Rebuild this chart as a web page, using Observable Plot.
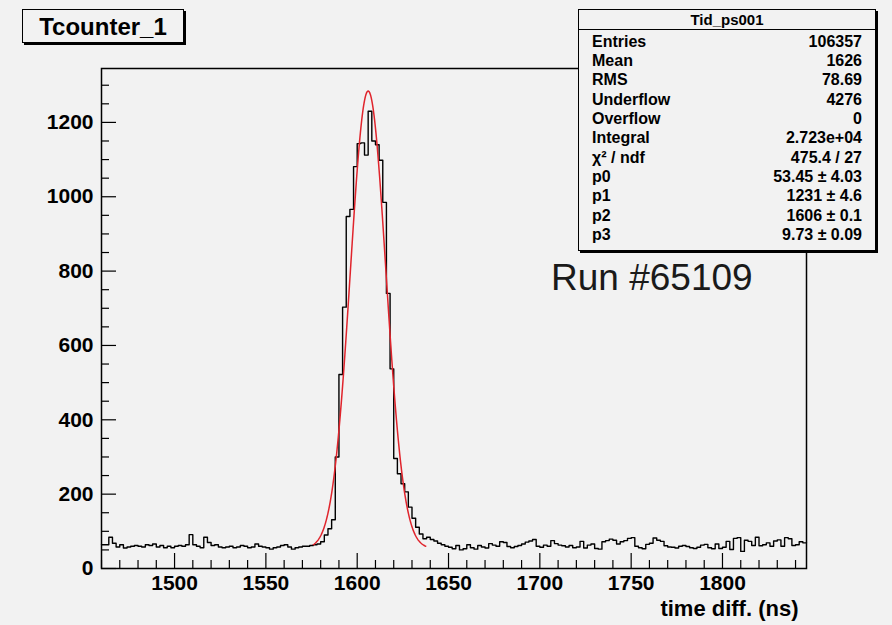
<!DOCTYPE html>
<html><head><meta charset="utf-8">
<script src="https://cdn.jsdelivr.net/npm/d3@7"></script>
<script src="https://cdn.jsdelivr.net/npm/@observablehq/plot@0.6"></script>
<style>
html,body{margin:0;padding:0;background:#f2f2f2;}
#wrap{position:relative;width:892px;height:625px;overflow:hidden;font-family:"Liberation Sans",Arial,Helvetica,sans-serif;color:#000;}
#wrap svg{position:absolute;left:0;top:0;}
.title{position:absolute;left:22px;top:9px;width:160px;height:32px;border:1px solid #000;box-shadow:2px 2px 0 #000;background:#f2f2f2;font-weight:bold;font-size:24px;line-height:34px;text-align:center;}
.stats{position:absolute;left:578px;top:9px;width:296px;height:240px;border:1px solid #000;box-shadow:2px 2px 0 #000;background:#f2f2f2;}
.stats .head{position:absolute;left:0;top:0;width:296px;height:19px;border-bottom:1px solid #000;font-weight:bold;font-size:15px;line-height:19px;text-align:center;}
.stats .row{position:absolute;left:13px;width:270px;height:20px;line-height:20px;font-size:16px;font-weight:bold;}
.stats .row .l{position:absolute;left:0;}
.stats .row .v{position:absolute;right:0;}
.run{position:absolute;left:551px;top:259px;font-size:37px;line-height:37px;color:#1a1a1a;white-space:nowrap;}
</style>
</head><body>
<div id="wrap"></div>
<script>
// ---- data ----
const histTitle = "Tcounter_1";
const statsTitle = "Tid_ps001";
const statsLabels = ["Entries","Mean","RMS","Underflow","Overflow","Integral","χ² / ndf","p0","p1","p2","p3"];
const statsValues = ["106357","1626","78.69","4276","0","2.723e+04","475.4 / 27","53.45 ± 4.03","1231 ± 4.6","1606 ± 0.1","9.73 ± 0.09"];
const runLabel = "Run #65109";
const xLabel = "time diff. (ns)";

const binLow = 1460;
const binWidth = 2;
const counts = [
  64,64,84,68,58,64,55,58,60,62, 60,58,64,62,66,58,62,56,60,56,
  60,62,60,64,91,64,60,56,84,70, 62,64,58,56,58,60,56,58,62,60,
  56,58,66,60,58,56,52,56,58,62, 64,58,52,56,58,60,60,62,
  64,66,72,90,107,131,300,522,703,947, 966,1081,1143,1145,1112,1230,1150,1140,1098,985,
  740,537,296,255,228,206,165,135,111,93, 80,
  84,78,74,68,64,60,57,53,62,50, 53,64,56,52,62,58,55,67,63,60,
  72,70,59,56,59,62,66,71,74,78, 60,57,63,60,75,67,63,61,58,62,
  56,58,73,55,63,66,54,52,72,75, 79,76,66,72,75,81,83,60,56,53,
  65,68,82,76,73,61,58,57,55,60, 62,59,56,54,57,63,65,56,53,66,
  54,57,73,51,81,83,46,76,73,62, 84,61,64,69,60,74,77,60,83,80,
  62,64,72,69
];
const fitParams = {p0: 53.45, p1: 1231, p2: 1606, p3: 9.73};
const fitRange = [1576, 1637.5];

const xDomain = [1460, 1846];
const yDomain = [0, 1345];
const xMajor = [1500, 1550, 1600, 1650, 1700, 1750, 1800];
const xMinor = [1460,1470,1480,1490,1510,1520,1530,1540,1560,1570,1580,1590,1610,1620,1630,1640,1660,1670,1680,1690,1710,1720,1730,1740,1760,1770,1780,1790,1810,1820,1830,1840];
const yMajor = [0, 200, 400, 600, 800, 1000, 1200];
const yMinor = [50,100,150,250,300,350,450,500,550,650,700,750,850,900,950,1050,1100,1150,1250,1300];

// ---- build ----
const histPts = counts.map((c, i) => ({x: binLow + i * binWidth, y: c}));
histPts.push({x: binLow + counts.length * binWidth, y: counts[counts.length - 1]});

const fitPts = [];
for (let t = fitRange[0]; t <= fitRange[1] + 1e-9; t += 0.25) {
  const z = (t - fitParams.p2) / fitParams.p3;
  fitPts.push({x: t, y: fitParams.p0 + fitParams.p1 * Math.exp(-0.5 * z * z)});
}

const W = 892, H = 625, mL = 101, mR = 86, mT = 68, mB = 57;
const innerW = W - mL - mR, innerH = H - mT - mB;
const majLen = 15, minLen = 8;

const chart = Plot.plot({
  width: W, height: H,
  marginLeft: mL, marginRight: mR, marginTop: mT, marginBottom: mB,
  x: {domain: xDomain},
  y: {domain: yDomain},
  style: {background: "transparent", fontFamily: "'Liberation Sans', Arial, sans-serif", color: "#000"},
  marks: [
    Plot.tickX(xMinor, {x: d => d, insetTop: innerH - minLen, stroke: "#000", strokeWidth: 1.2}),
    Plot.tickX(xMajor, {x: d => d, insetTop: innerH - majLen, stroke: "#000", strokeWidth: 1.2}),
    Plot.tickY(yMinor, {y: d => d, insetRight: innerW - minLen, stroke: "#000", strokeWidth: 1.2}),
    Plot.tickY(yMajor, {y: d => d, insetRight: innerW - majLen, stroke: "#000", strokeWidth: 1.2}),
    Plot.axisX({ticks: xMajor, tickSize: 0, tickPadding: 7, fontSize: 21, fontWeight: "bold", label: null, tickFormat: d => String(d)}),
    Plot.axisY({ticks: yMajor, tickSize: 0, tickPadding: 8, fontSize: 21, fontWeight: "bold", label: null, tickFormat: d => String(d)}),
    Plot.line(histPts, {x: "x", y: "y", curve: "step-after", stroke: "#000", strokeWidth: 1.4}),
    Plot.line(fitPts, {x: "x", y: "y", stroke: "#e0242c", strokeWidth: 1.5}),
    Plot.frame({stroke: "#000", strokeWidth: 1.5}),
    Plot.text([xLabel], {frameAnchor: "bottom-right", textAnchor: "end", lineAnchor: "bottom", dx: -8, dy: 47, fontSize: 22, fontWeight: "bold"})
  ]
});

const wrap = document.getElementById("wrap");
wrap.appendChild(chart);

const t = document.createElement("div");
t.className = "title"; t.textContent = histTitle; wrap.appendChild(t);

const s = document.createElement("div");
s.className = "stats";
const h = document.createElement("div"); h.className = "head"; h.textContent = statsTitle; s.appendChild(h);
statsLabels.forEach((lab, i) => {
  const r = document.createElement("div");
  r.className = "row";
  r.style.top = (31.7 + 19.33 * i - 10) + "px";
  const l = document.createElement("span"); l.className = "l"; l.textContent = lab;
  const v = document.createElement("span"); v.className = "v"; v.textContent = statsValues[i];
  r.appendChild(l); r.appendChild(v); s.appendChild(r);
});
wrap.appendChild(s);

const run = document.createElement("div");
run.className = "run"; run.textContent = runLabel; wrap.appendChild(run);
</script>
</body></html>
